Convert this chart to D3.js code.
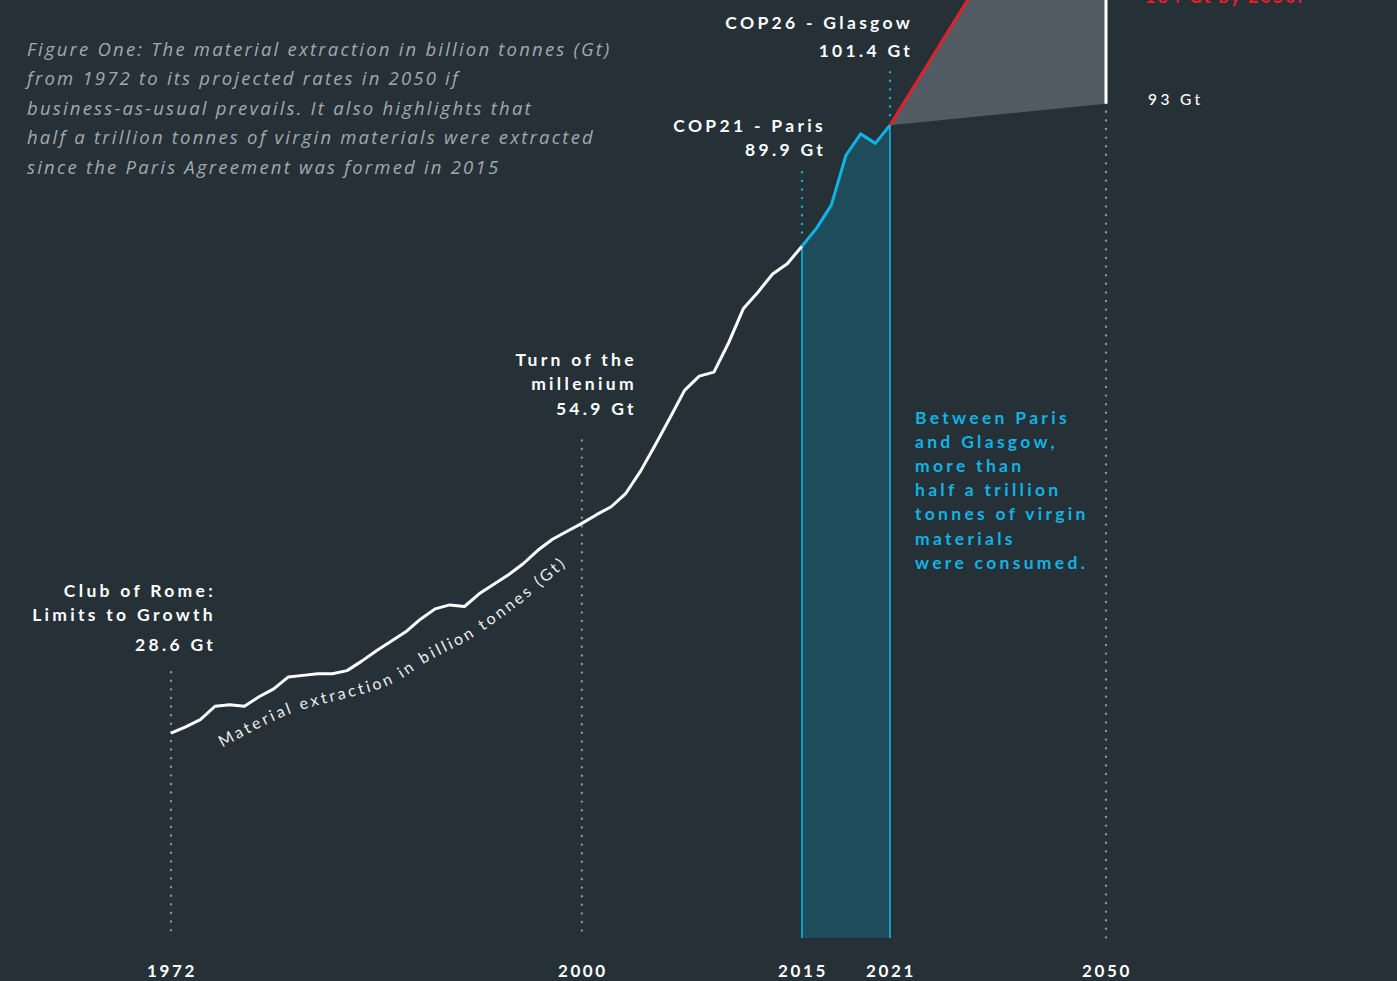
<!DOCTYPE html>
<html><head><meta charset="utf-8">
<script src="https://cdn.jsdelivr.net/npm/d3@7"></script>
<style>
html,body{margin:0;padding:0;background:#263037;}
svg{display:block}
</style></head><body>
<svg id="chart" width="1397" height="981"></svg>
<script>
// ---------- DATA ----------
const years = [1972,1973,1974,1975,1976,1977,1978,1979,1980,1981,1982,1983,1984,1985,1986,1987,1988,1989,1990,1991,1992,1993,1994,1995,1996,1997,1998,1999,2000,2001,2002,2003,2004,2005,2006,2007,2008,2009,2010,2011,2012,2013,2014,2015,2016,2017,2018,2019,2020,2021];
const extraction = [28.4,29.2,30.1,31.8,32.0,31.8,33.0,34.0,35.5,35.7,35.9,35.9,36.3,37.5,38.8,40.0,41.2,42.8,44.1,44.6,44.4,46.0,47.2,48.4,49.8,51.5,52.9,53.9,54.9,56.0,57.0,58.7,61.5,64.8,68.2,71.7,73.5,74.0,77.7,82.0,84.1,86.4,87.7,89.9,92.2,95.1,101.4,104.1,102.9,105.2];
const parisYear = 2015;
const glasgowYear = 2021;
const projYears = [2021, 2050];
const projHigh = [105.2, 149.2];
const projLow = [105.2, 107.9];
const markerYears = [1972, 2000, 2015, 2021, 2050];
const tickLabels = ["1972", "2000", "2015", "2021", "2050"];
const markerLabels = [
  ["Club of Rome:", "Limits to Growth", "28.6 Gt"],
  ["Turn of the", "millenium", "54.9 Gt"],
  ["COP21 - Paris", "89.9 Gt"],
  ["COP26 - Glasgow", "101.4 Gt"],
  []
];
const captionLines = [
  "Figure One: The material extraction in billion tonnes (Gt)",
  "from 1972 to its projected rates in 2050 if",
  "business-as-usual prevails. It also highlights that",
  "half a trillion tonnes of virgin materials were extracted",
  "since the Paris Agreement was formed in 2015"
];
const noteLines = ["Between Paris", "and Glasgow,", "more than", "half a trillion", "tonnes of virgin", "materials", "were consumed."];
const lowLabel = "93 Gt";
const highLabel = "184 Gt by 2050.";
const seriesTitle = "Material extraction in billion tonnes (Gt)";
const titlePathYears = [1975.5, 1980.05, 1986.9, 1989.6, 1992.3, 1995.7, 1999.3];
const titlePathValues = [26.6, 30.8, 34.5, 37.6, 40.2, 44.6, 50.2];

// ---------- LAYOUT / STYLE ----------
const W = 1397, H = 981, bottom = 938;
const C = {bg:"#263037", white:"#ffffff", blue:"#0fb4e4", teal:"#1f4c5a", grey:"#525b63", red:"#e3202a", dot:"#8e959b", caption:"#a4a9ad"};
const LF = "Lato, 'Open Sans', sans-serif";
const markerLayout = [
  {dotGap: 61, dx: 45, base: [-75, -51, -21]},
  {dotGap: 83, dx: 55, base: [-74, -50, -25]},
  {dotGap: 74, dx: 24, base: [-40, -16]},
  {dotGap: 53, dx: 23, base: [-43, -15]},
  {dotGap: 0, dx: 0, base: []}
];

const x = d3.scaleLinear().domain([1972, 2021, 2050]).range([171, 890, 1106]);
const y = d3.scaleLinear().domain([0, 120]).range([958, 8]);

const svg = d3.select("#chart");
svg.append("rect").attr("width", W).attr("height", H).attr("fill", C.bg);

const data = years.map((yr, i) => ({yr, v: extraction[i]}));
const valAt = yr => { const d = data.find(e => e.yr === yr); return d ? d.v : projLow[1]; };

// teal area 2015-2021
const blueData = data.filter(d => d.yr >= parisYear && d.yr <= glasgowYear);
svg.append("path").datum(blueData)
  .attr("d", d3.area().x(d => x(d.yr)).y0(bottom).y1(d => y(d.v)))
  .attr("fill", C.teal);
[parisYear, glasgowYear].forEach(yr => {
  svg.append("line").attr("x1", x(yr)).attr("x2", x(yr))
    .attr("y1", y(valAt(yr))).attr("y2", bottom)
    .attr("stroke", C.blue).attr("stroke-width", 1.6);
});

// projection wedge
const proj = projYears.map((yr, i) => ({yr, hi: projHigh[i], lo: projLow[i]}));
svg.append("path").datum(proj)
  .attr("d", d3.area().x(d => x(d.yr)).y0(d => y(d.lo)).y1(d => y(d.hi)))
  .attr("fill", C.grey);
svg.append("path").datum(proj)
  .attr("d", d3.line().x(d => x(d.yr)).y(d => y(d.hi)))
  .attr("fill", "none").attr("stroke", C.red).attr("stroke-width", 3);
svg.append("line")
  .attr("x1", x(2050)).attr("x2", x(2050))
  .attr("y1", y(projLow[1])).attr("y2", y(projHigh[1]))
  .attr("stroke", C.white).attr("stroke-width", 3);

// dotted markers
markerYears.forEach((yr, i) => {
  const L = markerLayout[i];
  const yTop = y(valAt(yr));
  const dotted = (y1, y2, col) => svg.append("line")
    .attr("x1", x(yr)).attr("x2", x(yr)).attr("y1", y1).attr("y2", y2)
    .attr("stroke", col).attr("stroke-width", 2.4)
    .attr("stroke-linecap", "round").attr("stroke-dasharray", "0 8.6");
  if (yr === parisYear || yr === glasgowYear) {
    dotted(yTop - L.dotGap, yTop - 6, C.blue);
  } else {
    dotted(yr === 2050 ? yTop + 8 : yTop - L.dotGap, bottom, C.dot);
  }
  markerLabels[i].forEach((t, j) => {
    svg.append("text").attr("x", x(yr) + L.dx).attr("y", yTop - L.dotGap + L.base[j])
      .attr("text-anchor", "end").attr("fill", C.white)
      .attr("font-family", LF).attr("font-weight", 700).attr("font-size", 17.5)
      .attr("letter-spacing", "3.3px").text(t);
  });
  svg.append("text").attr("x", x(yr) + 1).attr("y", 977)
    .attr("text-anchor", "middle").attr("fill", C.white)
    .attr("font-family", LF).attr("font-weight", 700).attr("font-size", 17)
    .attr("letter-spacing", "2.6px").text(tickLabels[i]);
});

// main line
const line = d3.line().x(d => x(d.yr)).y(d => y(d.v));
svg.append("path").datum(data.filter(d => d.yr <= parisYear))
  .attr("d", line).attr("fill", "none").attr("stroke", C.white)
  .attr("stroke-width", 3).attr("stroke-linejoin", "round");
svg.append("path").datum(blueData)
  .attr("d", line).attr("fill", "none").attr("stroke", C.blue)
  .attr("stroke-width", 3).attr("stroke-linejoin", "round");

// curved series title
const tp = titlePathYears.map((yr, i) => [x(yr), y(titlePathValues[i])]);
svg.append("path").attr("id", "titlePath")
  .attr("d", d3.line().curve(d3.curveCatmullRom)(tp)).attr("fill", "none");
svg.append("text").attr("fill", "#eceeef")
  .attr("font-family", LF).attr("font-size", 16).attr("letter-spacing", "2.8px")
  .append("textPath").attr("href", "#titlePath").text(seriesTitle);

// projection labels
svg.append("text").attr("x", x(2050) + 42).attr("y", y(projLow[1]) + 1)
  .attr("fill", C.white).attr("font-family", LF).attr("font-size", 15.5)
  .attr("font-weight", 500).attr("letter-spacing", "3.4px").text(lowLabel);
svg.append("text").attr("x", x(2050) + 39).attr("y", 3)
  .attr("fill", C.red).attr("font-family", LF).attr("font-size", 18)
  .attr("font-weight", 700).attr("letter-spacing", "2px").text(highLabel);

// blue note
noteLines.forEach((t, j) => {
  svg.append("text").attr("x", x(glasgowYear) + 25).attr("y", 424 + j * 24.1)
    .attr("fill", C.blue).attr("font-family", LF).attr("font-weight", 700)
    .attr("font-size", 17.5).attr("letter-spacing", "3.3px").text(t);
});

// caption
captionLines.forEach((t, j) => {
  svg.append("text").attr("x", 27).attr("y", 56 + j * 29.4)
    .attr("fill", C.caption).attr("font-family", "'Open Sans', sans-serif")
    .attr("font-style", "italic").attr("font-size", 18.5)
    .attr("letter-spacing", "2.2px").text(t);
});
</script>
</body></html>
